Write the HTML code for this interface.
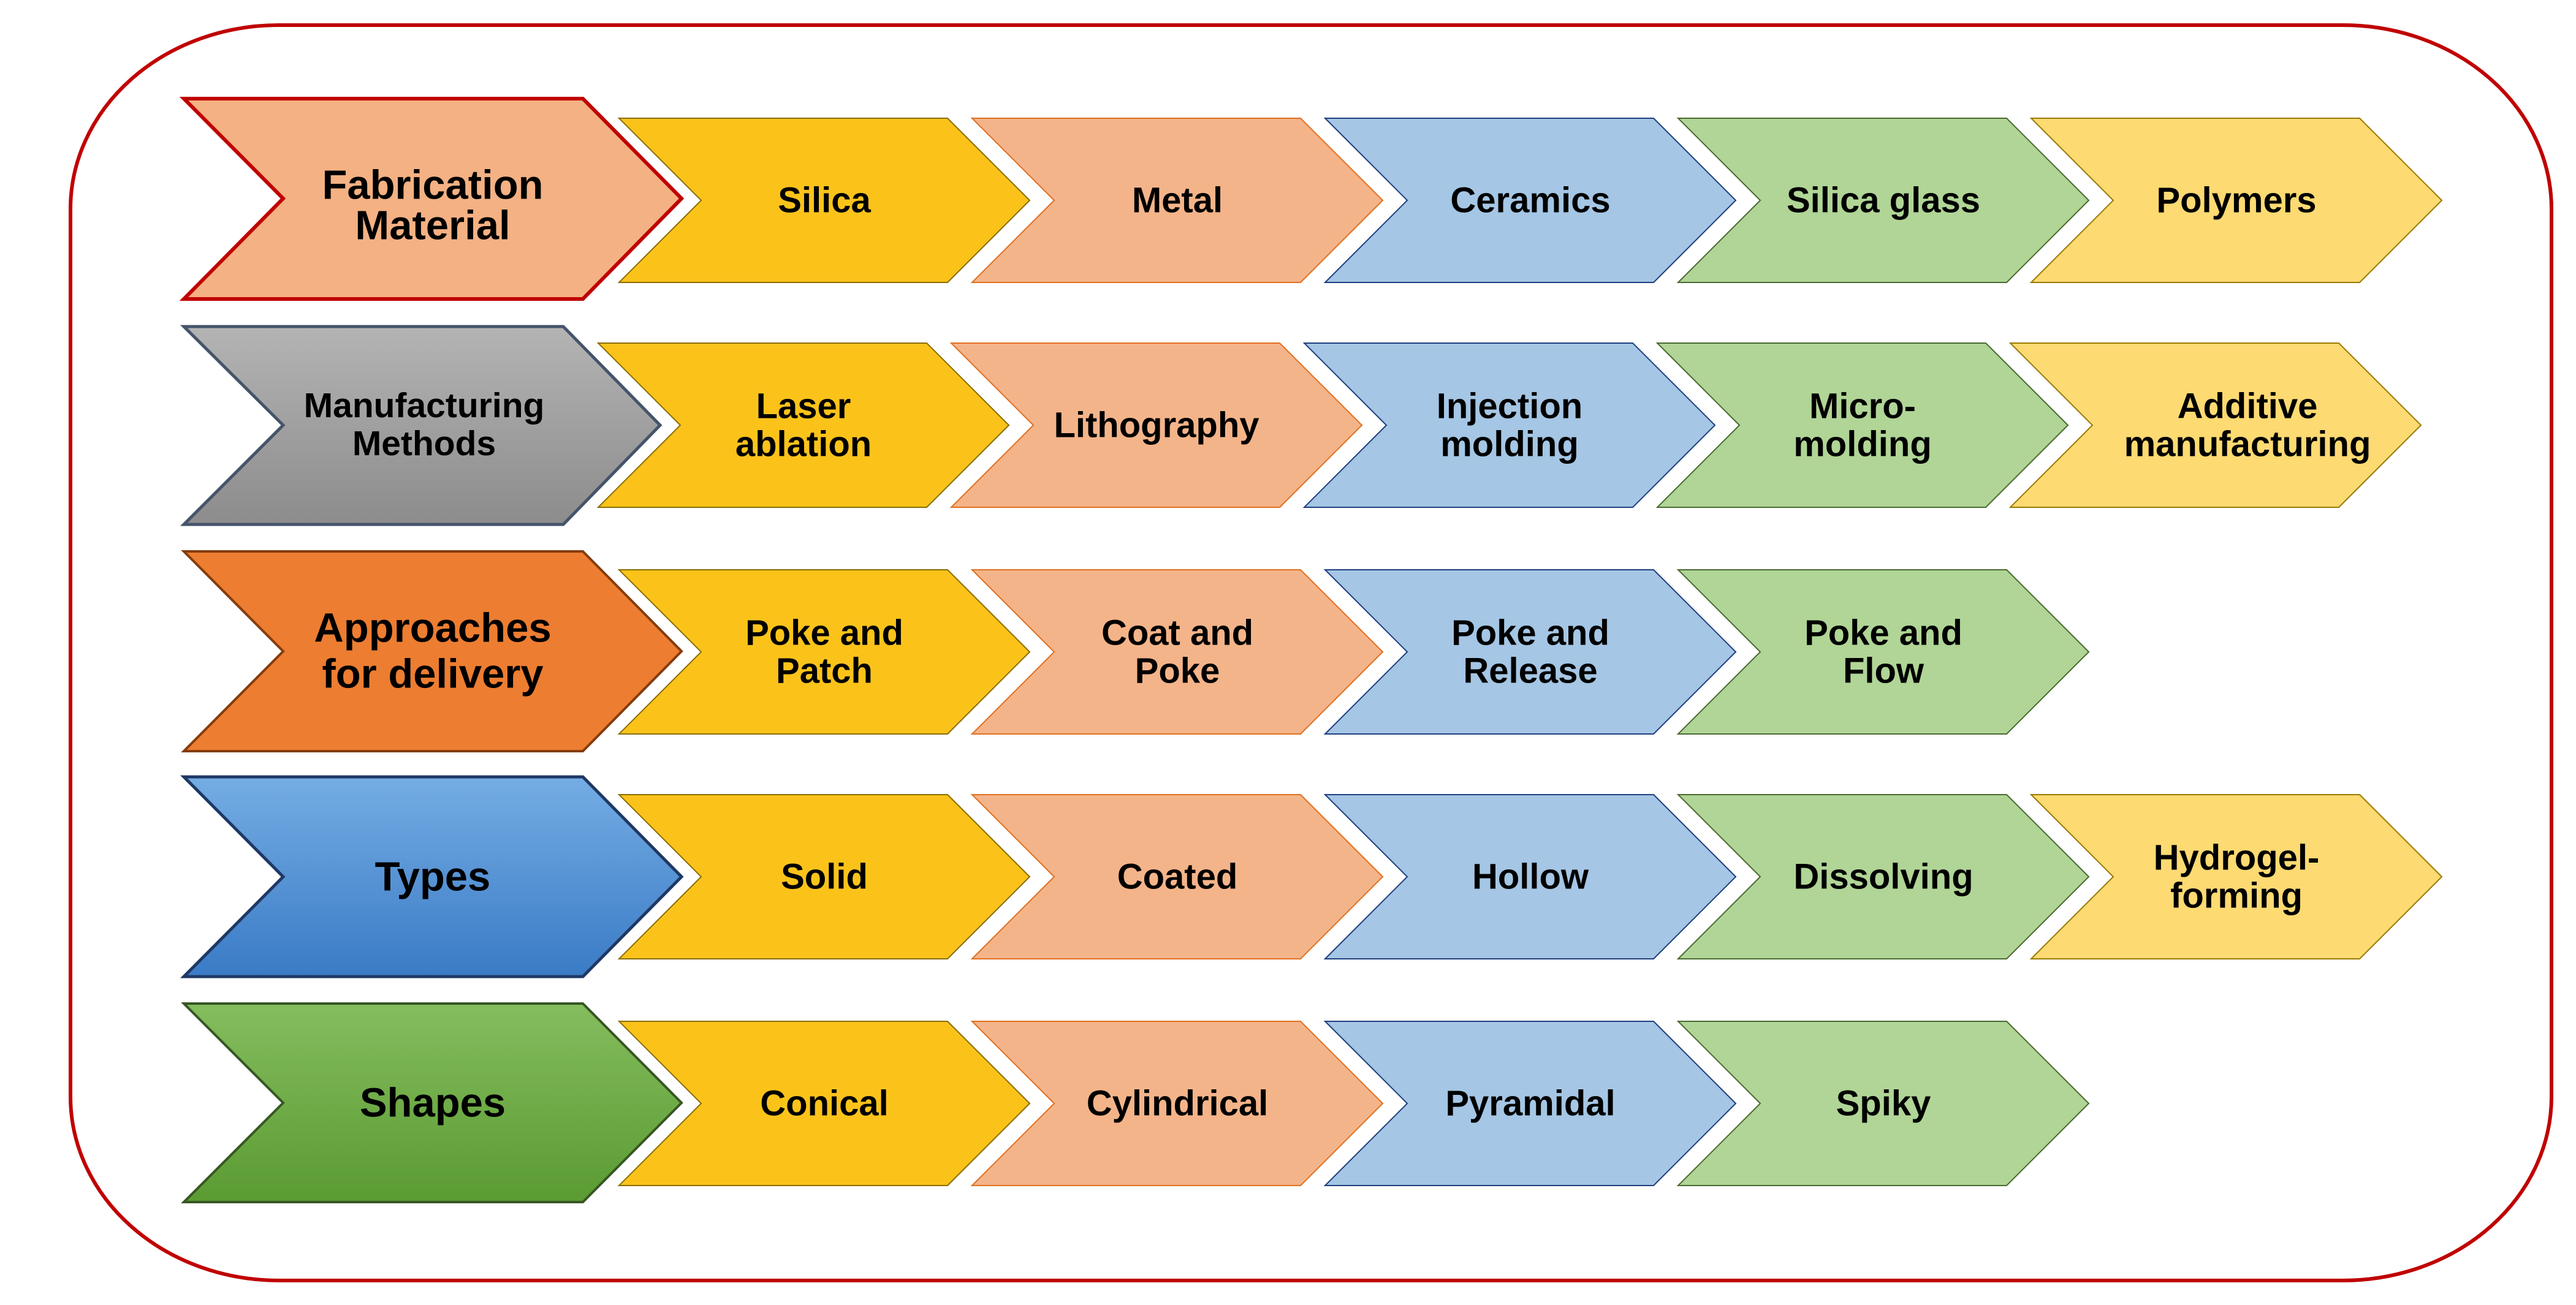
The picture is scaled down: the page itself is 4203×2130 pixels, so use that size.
<!DOCTYPE html>
<html><head><meta charset="utf-8"><style>html,body{margin:0;padding:0;background:#fff}svg{display:block}</style></head><body>
<svg width="4203" height="2130" viewBox="0 0 4203 2130" xmlns="http://www.w3.org/2000/svg" font-family="Liberation Sans, Arial, sans-serif" font-weight="bold" text-anchor="middle">
<defs>
<linearGradient id="gGray" x1="0" y1="0" x2="0" y2="1"><stop offset="0" stop-color="#b4b4b4"/><stop offset="1" stop-color="#8c8c8c"/></linearGradient>
<linearGradient id="gBlue" x1="0" y1="0" x2="0" y2="1"><stop offset="0" stop-color="#75ade4"/><stop offset="1" stop-color="#3a7bc6"/></linearGradient>
<linearGradient id="gGreen" x1="0" y1="0" x2="0" y2="1"><stop offset="0" stop-color="#84bd5e"/><stop offset="1" stop-color="#5b9b32"/></linearGradient>
</defs>
<path d="M455,41 H3823 A340,300 0 0 1 4163,341 V1790 A340,300 0 0 1 3823,2090 H455 A340,300 0 0 1 115,1790 V341 A340,300 0 0 1 455,41 Z" fill="#fff" stroke="#c00000" stroke-width="6"/>

<!-- headers -->
<polygon points="300,161 951,161 1112,324 951,488 300,488 462,324" fill="#f4b183" stroke="#c00000" stroke-width="6"/>
<text font-size="67" x="706" y="302" dominant-baseline="central">Fabrication</text>
<text font-size="67" x="706" y="368" dominant-baseline="central">Material</text>

<polygon points="300,533 919,533 1077,694 919,856 300,856 462,694" fill="url(#gGray)" stroke="#44546a" stroke-width="5"/>
<text font-size="57" x="692" y="662" dominant-baseline="central">Manufacturing</text>
<text font-size="57" x="692" y="724" dominant-baseline="central">Methods</text>

<polygon points="300,900 951,900 1112,1063 951,1226 300,1226 462,1063" fill="#ed7d31" stroke="#843c0c" stroke-width="4"/>
<text font-size="67" x="706" y="1025" dominant-baseline="central">Approaches</text>
<text font-size="67" x="706" y="1100" dominant-baseline="central">for delivery</text>

<polygon points="300,1268 951,1268 1112,1431 951,1594 300,1594 462,1431" fill="url(#gBlue)" stroke="#1f3864" stroke-width="5"/>
<text font-size="67" x="706" y="1431" dominant-baseline="central">Types</text>

<polygon points="300,1638 951,1638 1112,1800 951,1962 300,1962 462,1800" fill="url(#gGreen)" stroke="#375623" stroke-width="4"/>
<text font-size="67" x="706" y="1800" dominant-baseline="central">Shapes</text>

<!-- row1 y 193-461 -->
<g font-size="58" stroke-width="2">
<polygon points="1010,193 1546,193 1680,327 1546,461 1010,461 1144,327" fill="#fbc31a" stroke="#8a6d00"/>
<text x="1345" y="327" dominant-baseline="central">Silica</text>
<polygon points="1586,193 2122,193 2256,327 2122,461 1586,461 1720,327" fill="#f4b48a" stroke="#e07020"/>
<text x="1921" y="327" dominant-baseline="central">Metal</text>
<polygon points="2162,193 2698,193 2832,327 2698,461 2162,461 2296,327" fill="#a5c6e4" stroke="#1f3f80"/>
<text x="2497" y="327" dominant-baseline="central">Ceramics</text>
<polygon points="2738,193 3274,193 3408,327 3274,461 2738,461 2872,327" fill="#b0d596" stroke="#4a6a30"/>
<text x="3073" y="327" dominant-baseline="central">Silica glass</text>
<polygon points="3314,193 3850,193 3984,327 3850,461 3314,461 3448,327" fill="#fdda72" stroke="#9a7a00"/>
<text x="3649" y="327" dominant-baseline="central">Polymers</text>
</g>

<!-- row2 y 560-828 -->
<g font-size="58" stroke-width="2">
<polygon points="976,560 1512,560 1646,694 1512,828 976,828 1110,694" fill="#fbc31a" stroke="#8a6d00"/>
<text x="1311" y="663" dominant-baseline="central">Laser</text><text x="1311" y="725" dominant-baseline="central">ablation</text>
<polygon points="1552,560 2088,560 2222,694 2088,828 1552,828 1686,694" fill="#f4b48a" stroke="#e07020"/>
<text x="1887" y="694" dominant-baseline="central">Lithography</text>
<polygon points="2128,560 2664,560 2798,694 2664,828 2128,828 2262,694" fill="#a5c6e4" stroke="#1f3f80"/>
<text x="2463" y="663" dominant-baseline="central">Injection</text><text x="2463" y="725" dominant-baseline="central">molding</text>
<polygon points="2704,560 3240,560 3374,694 3240,828 2704,828 2838,694" fill="#b0d596" stroke="#4a6a30"/>
<text x="3039" y="663" dominant-baseline="central">Micro-</text><text x="3039" y="725" dominant-baseline="central">molding</text>
<polygon points="3280,560 3816,560 3950,694 3816,828 3280,828 3414,694" fill="#fdda72" stroke="#9a7a00"/>
<text x="3667" y="663" dominant-baseline="central">Additive</text><text x="3667" y="725" dominant-baseline="central">manufacturing</text>
</g>

<!-- row3 y 930-1198 -->
<g font-size="58" stroke-width="2">
<polygon points="1010,930 1546,930 1680,1064 1546,1198 1010,1198 1144,1064" fill="#fbc31a" stroke="#8a6d00"/>
<text x="1345" y="1033" dominant-baseline="central">Poke and</text><text x="1345" y="1095" dominant-baseline="central">Patch</text>
<polygon points="1586,930 2122,930 2256,1064 2122,1198 1586,1198 1720,1064" fill="#f4b48a" stroke="#e07020"/>
<text x="1921" y="1033" dominant-baseline="central">Coat and</text><text x="1921" y="1095" dominant-baseline="central">Poke</text>
<polygon points="2162,930 2698,930 2832,1064 2698,1198 2162,1198 2296,1064" fill="#a5c6e4" stroke="#1f3f80"/>
<text x="2497" y="1033" dominant-baseline="central">Poke and</text><text x="2497" y="1095" dominant-baseline="central">Release</text>
<polygon points="2738,930 3274,930 3408,1064 3274,1198 2738,1198 2872,1064" fill="#b0d596" stroke="#4a6a30"/>
<text x="3073" y="1033" dominant-baseline="central">Poke and</text><text x="3073" y="1095" dominant-baseline="central">Flow</text>
</g>

<!-- row4 y 1297-1565 -->
<g font-size="58" stroke-width="2">
<polygon points="1010,1297 1546,1297 1680,1431 1546,1565 1010,1565 1144,1431" fill="#fbc31a" stroke="#8a6d00"/>
<text x="1345" y="1431" dominant-baseline="central">Solid</text>
<polygon points="1586,1297 2122,1297 2256,1431 2122,1565 1586,1565 1720,1431" fill="#f4b48a" stroke="#e07020"/>
<text x="1921" y="1431" dominant-baseline="central">Coated</text>
<polygon points="2162,1297 2698,1297 2832,1431 2698,1565 2162,1565 2296,1431" fill="#a5c6e4" stroke="#1f3f80"/>
<text x="2497" y="1431" dominant-baseline="central">Hollow</text>
<polygon points="2738,1297 3274,1297 3408,1431 3274,1565 2738,1565 2872,1431" fill="#b0d596" stroke="#4a6a30"/>
<text x="3073" y="1431" dominant-baseline="central">Dissolving</text>
<polygon points="3314,1297 3850,1297 3984,1431 3850,1565 3314,1565 3448,1431" fill="#fdda72" stroke="#9a7a00"/>
<text x="3649" y="1400" dominant-baseline="central">Hydrogel-</text><text x="3649" y="1462" dominant-baseline="central">forming</text>
</g>

<!-- row5 y 1667-1935 -->
<g font-size="58" stroke-width="2">
<polygon points="1010,1667 1546,1667 1680,1801 1546,1935 1010,1935 1144,1801" fill="#fbc31a" stroke="#8a6d00"/>
<text x="1345" y="1801" dominant-baseline="central">Conical</text>
<polygon points="1586,1667 2122,1667 2256,1801 2122,1935 1586,1935 1720,1801" fill="#f4b48a" stroke="#e07020"/>
<text x="1921" y="1801" dominant-baseline="central">Cylindrical</text>
<polygon points="2162,1667 2698,1667 2832,1801 2698,1935 2162,1935 2296,1801" fill="#a5c6e4" stroke="#1f3f80"/>
<text x="2497" y="1801" dominant-baseline="central">Pyramidal</text>
<polygon points="2738,1667 3274,1667 3408,1801 3274,1935 2738,1935 2872,1801" fill="#b0d596" stroke="#4a6a30"/>
<text x="3073" y="1801" dominant-baseline="central">Spiky</text>
</g>
</svg>
</body></html>
